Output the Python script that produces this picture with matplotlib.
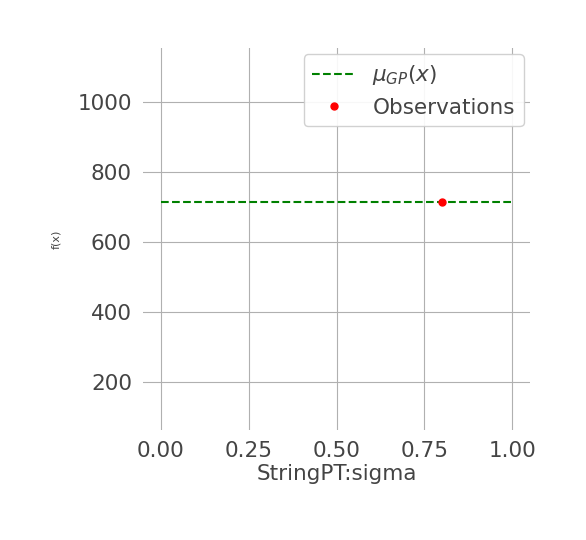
import matplotlib.pyplot as plt

# Gaussian process mean and the single observation
x_grid = [0.0, 1.0]
mu_gp = [715, 715]
obs_x = [0.8]
obs_y = [715]

fig = plt.figure(figsize=(5.86, 5.40), dpi=100)
ax = fig.add_axes([143 / 586, 1 - 430 / 540, 387 / 586, 382 / 540])

ax.plot(x_grid, mu_gp, '--', color='green', linewidth=1.5, label=r'$\mu_{GP}(x)$')
ax.plot(obs_x, obs_y, 'o', color='red', markersize=5, label='Observations')

ax.set_xlim(-0.05, 1.05)
ax.set_ylim(63, 1154)
ax.set_xticks([0.0, 0.25, 0.5, 0.75, 1.0])
ax.set_xticklabels(['0.00', '0.25', '0.50', '0.75', '1.00'])
ax.set_yticks([200, 400, 600, 800, 1000])
ax.grid(True, color='#b0b0b0', linewidth=0.8)
for s in ax.spines.values():
    s.set_visible(False)
ax.tick_params(labelsize=15.5, colors='#444444', length=0, pad=8)
ax.set_xlabel('StringPT:sigma', fontsize=15.5, color='#444444', labelpad=2)
ax.set_ylabel('f(x)', fontsize=8, color='#444444', labelpad=12)
ax.legend(loc='upper right', fontsize=15.5, labelcolor='#444444', framealpha=0.9,
          borderaxespad=0.3)

fig.savefig('out.png')
